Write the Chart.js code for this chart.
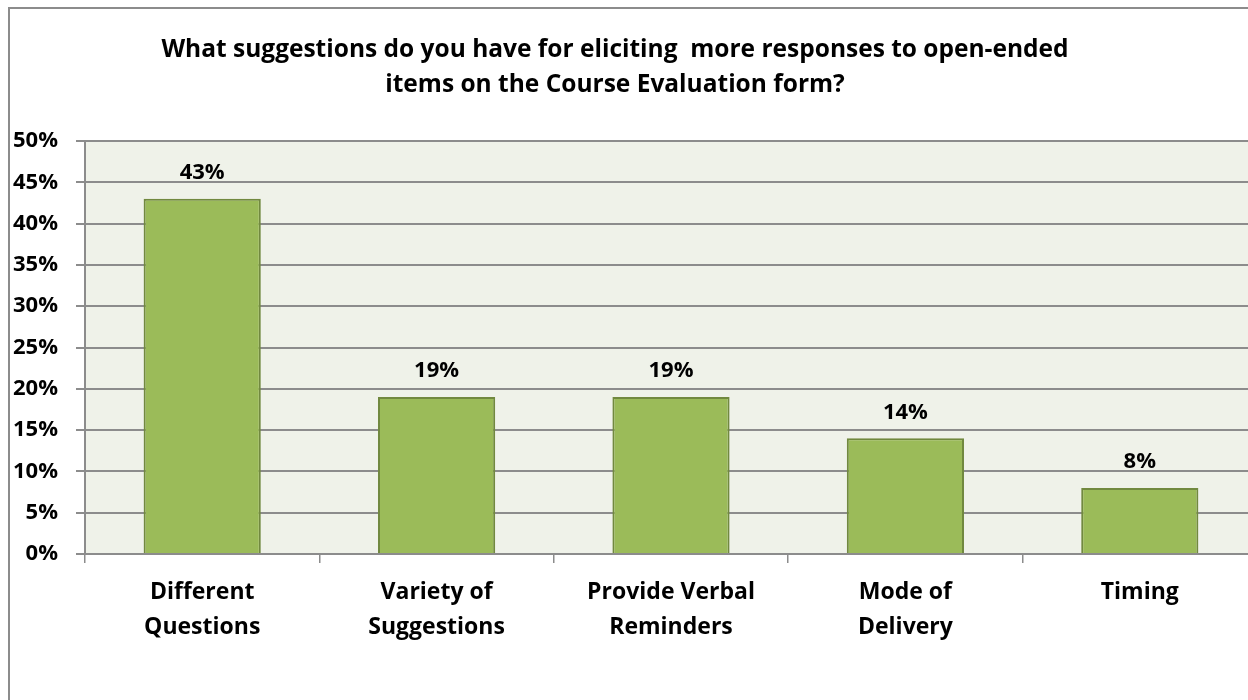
<!DOCTYPE html>
<html>
<head>
  <title>Course Evaluation Suggestions</title>
  <script src="https://cdn.jsdelivr.net/npm/chart.js"></script>
  <style>
    body { margin: 0; overflow: hidden; background: #fff; font-family: "Open Sans", Arial, sans-serif; }
    #frame { position: absolute; left: 8px; top: 7px; width: 1300px; height: 800px;
             border-left: 2px solid #8c8c8c; border-top: 2px solid #8c8c8c; }
    #title { position: absolute; left: 0; top: 30px; width: 1230px; text-align: center;
             font-weight: bold; font-size: 24.5px; line-height: 35px; color: #000; }
    #wrap { position: absolute; left: 0; top: 0; width: 1270px; height: 700px; }
  </style>
</head>
<body>
  <div id="frame"></div>
  <div id="wrap"><canvas id="suggestChart"></canvas></div>
  <div id="title">What suggestions do you have for eliciting &nbsp;more responses to open-ended<br>items on the Course Evaluation form?</div>

  <script>
    const categories = [
      ["Different", "Questions"],
      ["Variety of", "Suggestions"],
      ["Provide Verbal", "Reminders"],
      ["Mode of", "Delivery"],
      ["Timing"]
    ];
    const percents = [43, 19, 19, 14, 8];
    const yTicks = [0, 5, 10, 15, 20, 25, 30, 35, 40, 45, 50];

    const plotBg = {
      id: 'plotBg',
      beforeDraw(chart) {
        const a = chart.chartArea, ctx = chart.ctx;
        ctx.save();
        ctx.fillStyle = '#eff2e9';
        ctx.fillRect(a.left, a.top, a.right - a.left, a.bottom - a.top);
        ctx.restore();
      }
    };

    const barLabels = {
      id: 'barLabels',
      afterDatasetsDraw(chart) {
        const ctx = chart.ctx;
        const meta = chart.getDatasetMeta(0);
        ctx.save();
        ctx.font = 'bold 22px "Open Sans", Arial';
        ctx.fillStyle = '#000';
        ctx.textAlign = 'center';
        ctx.textBaseline = 'middle';
        meta.data.forEach((bar, i) => {
          ctx.fillText(percents[i] + '%', bar.x, bar.y - 26);
        });
        ctx.restore();
      }
    };

    new Chart(document.getElementById('suggestChart'), {
      type: 'bar',
      data: {
        labels: categories,
        datasets: [{
          data: percents,
          backgroundColor: '#9bbb59',
          borderColor: '#71893f',
          borderWidth: 2,
          barPercentage: 0.5,
          categoryPercentage: 1.0
        }]
      },
      options: {
        responsive: true,
        maintainAspectRatio: false,
        animation: false,
        layout: { padding: { top: 141, left: 0, right: 13, bottom: 0 } },
        plugins: { legend: { display: false }, tooltip: { enabled: false } },
        scales: {
          x: {
            afterFit: s => { s.height = 146; },
            grid: { offset: true, drawOnChartArea: false, drawTicks: true, tickLength: 9, color: '#8c8c8c', lineWidth: 1.5 },
            border: { display: true, color: '#8c8c8c', width: 2 },
            ticks: {
              padding: 12,
              color: '#000',
              font: { family: '"Open Sans", Arial', size: 23, weight: 'bold', lineHeight: 1.52 }
            }
          },
          y: {
            min: 0,
            max: 50,
            afterFit: s => { s.width = 85; },
            afterBuildTicks: s => { s.ticks = yTicks.map(v => ({ value: v })); },
            grid: { color: '#8c8c8c', lineWidth: 2, tickLength: 9 },
            border: { display: true, color: '#8c8c8c', width: 2 },
            ticks: {
              padding: 18,
              color: '#000',
              font: { family: '"Open Sans", Arial', size: 22, weight: 'bold' },
              callback: v => v + '%'
            }
          }
        }
      },
      plugins: [plotBg, barLabels]
    });
  </script>
</body>
</html>
